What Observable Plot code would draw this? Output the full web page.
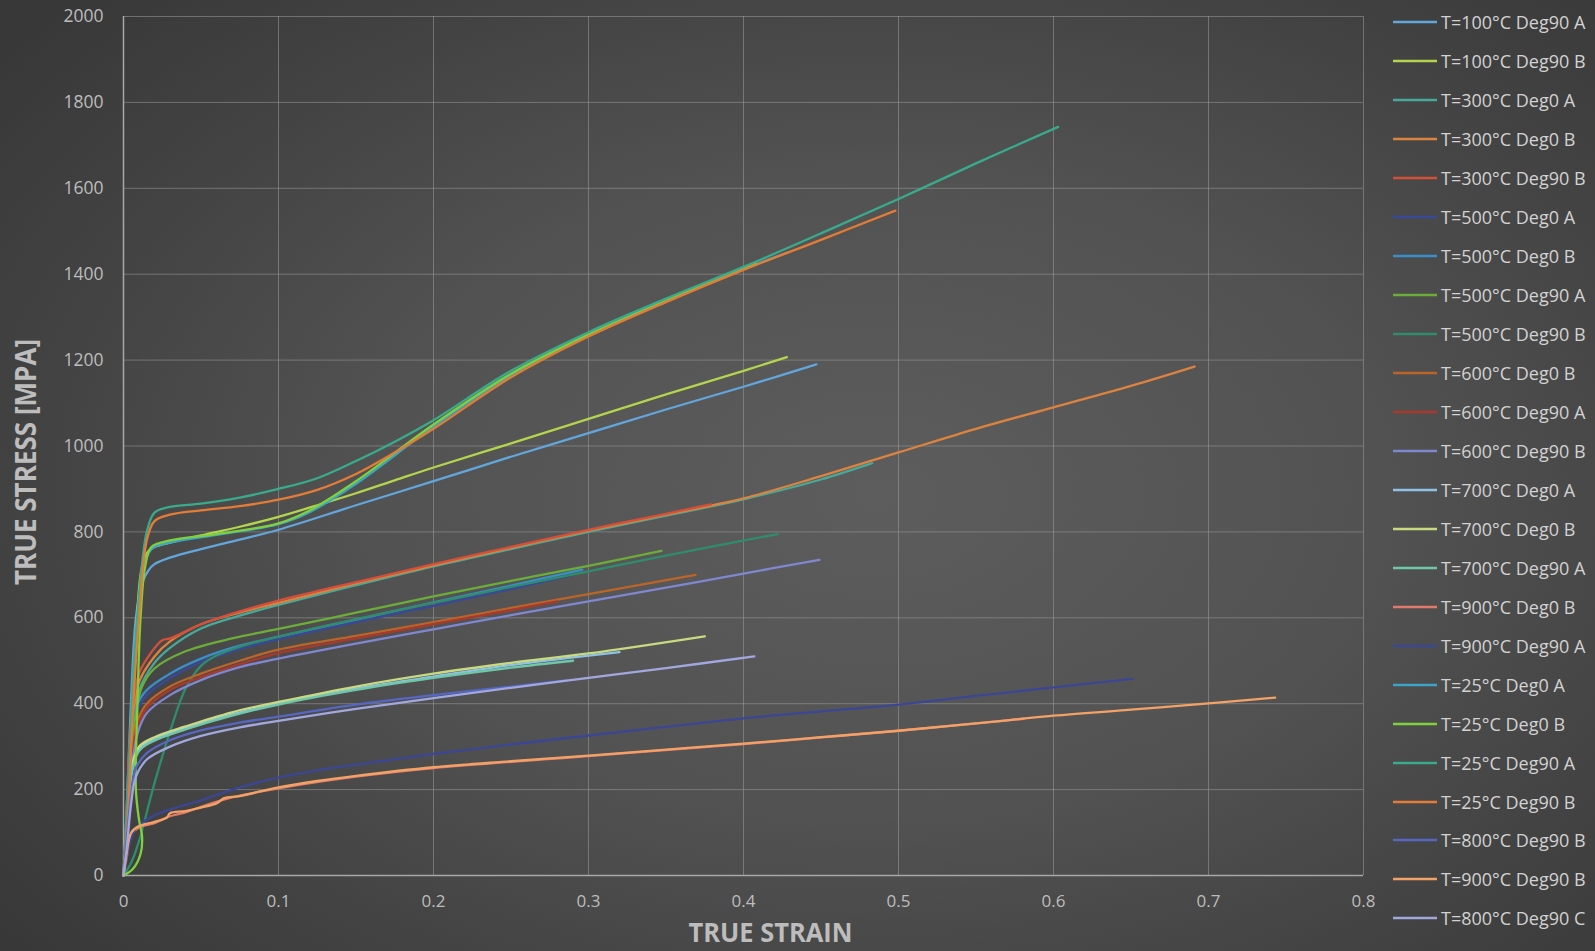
<!DOCTYPE html>
<html>
<head>
<meta charset="utf-8">
<script src="https://cdn.jsdelivr.net/npm/d3@7"></script>
<script src="https://cdn.jsdelivr.net/npm/@observablehq/plot@0.6"></script>
<style>
  html, body { margin: 0; padding: 0; background: #3a3a3a; }
  #wrap {
    position: relative; width: 1595px; height: 951px; overflow: hidden;
    background: radial-gradient(ellipse 70% 75% at 55% 52%, #5d5d5d 0%, #525252 45%, #434343 75%, #383838 100%);
    font-family: "Open Sans", "Noto Sans", sans-serif;
  }
  #chart { position: absolute; left: 0; top: 0; }
  #legend { position: absolute; left: 1393px; top: 3px; width: 202px; }
  .item { height: 38.96px; display: flex; align-items: center; color: #d2d2d2; font-size: 18px; white-space: nowrap; }
  .item svg { flex: none; margin-right: 4px; }
</style>
</head>
<body>
<div id="wrap">
  <div id="chart"></div>
  <div id="legend"></div>
</div>
<script>
// ---- tick values ----
const xTicks = [0, 0.1, 0.2, 0.3, 0.4, 0.5, 0.6, 0.7, 0.8];
const yTicks = [0, 200, 400, 600, 800, 1000, 1200, 1400, 1600, 1800, 2000];

// ---- series (true strain, true stress MPa) ----
const s100_Deg90A = [[0,0],[0.002,150],[0.005,420],[0.008,600],[0.012,680],[0.016,710],[0.02,725],[0.03,740],[0.05,760],[0.075,782],[0.1,805],[0.15,862],[0.2,918],[0.25,975],[0.3,1030],[0.35,1085],[0.4,1138],[0.447,1190]];
const s100_Deg90B = [[0,0],[0.003,150],[0.006,400],[0.009,620],[0.012,720],[0.016,755],[0.02,765],[0.03,775],[0.05,792],[0.075,812],[0.1,835],[0.125,862],[0.15,890],[0.175,920],[0.2,950],[0.25,1006],[0.3,1063],[0.35,1120],[0.4,1175],[0.428,1207]];
const s300_Deg0A = [[0,0],[0.002,120],[0.005,300],[0.01,430],[0.02,495],[0.03,530],[0.05,575],[0.075,605],[0.1,630],[0.15,676],[0.2,720],[0.25,760],[0.3,800],[0.35,838],[0.4,876],[0.45,922],[0.483,960]];
const s300_Deg0B = [[0,0],[0.002,130],[0.005,330],[0.01,450],[0.02,510],[0.03,545],[0.05,585],[0.075,612],[0.1,635],[0.15,680],[0.2,722],[0.25,763],[0.3,803],[0.35,840],[0.4,878],[0.45,930],[0.5,985],[0.55,1040],[0.6,1090],[0.65,1140],[0.691,1185]];
const s300_Deg90B = [[0,0],[0.002,150],[0.005,360],[0.01,470],[0.018,520],[0.025,548],[0.03,552],[0.04,568],[0.05,585],[0.075,615],[0.1,640],[0.15,683],[0.2,725],[0.25,765],[0.3,805],[0.35,842],[0.379,864]];
const s500_Deg0A = [[0,0],[0.002,120],[0.005,300],[0.009,385],[0.015,420],[0.03,460],[0.05,497],[0.075,527],[0.1,550],[0.15,590],[0.2,628],[0.25,667],[0.29,700]];
const s500_Deg0B = [[0,0],[0.002,140],[0.005,320],[0.009,400],[0.015,432],[0.03,470],[0.05,505],[0.075,535],[0.1,556],[0.15,596],[0.2,636],[0.25,675],[0.296,712]];
const s500_Deg90A = [[0,0],[0.002,100],[0.005,280],[0.008,380],[0.012,440],[0.02,482],[0.04,522],[0.07,552],[0.1,574],[0.15,612],[0.2,650],[0.25,686],[0.3,721],[0.347,756]];
const s500_Deg90B = [[0,0],[0.005,30],[0.01,80],[0.02,215],[0.03,335],[0.04,435],[0.05,488],[0.06,512],[0.08,538],[0.1,556],[0.15,597],[0.2,635],[0.25,672],[0.3,708],[0.35,745],[0.422,795]];
const s600_Deg0B = [[0,0],[0.002,110],[0.005,280],[0.009,360],[0.015,400],[0.03,440],[0.05,470],[0.075,500],[0.1,526],[0.15,558],[0.2,590],[0.25,623],[0.3,655],[0.369,700]];
const s600_Deg90A = [[0,0],[0.002,100],[0.005,260],[0.009,345],[0.015,390],[0.03,432],[0.05,462],[0.075,492],[0.1,518],[0.15,552],[0.2,585],[0.25,618],[0.28,638]];
const s600_Deg90B = [[0,0],[0.002,90],[0.005,240],[0.009,330],[0.015,378],[0.03,420],[0.05,455],[0.075,485],[0.1,505],[0.15,540],[0.2,573],[0.25,606],[0.3,638],[0.35,670],[0.4,703],[0.449,735]];
const s700_Deg0A = [[0,0],[0.002,90],[0.005,240],[0.01,295],[0.02,318],[0.04,343],[0.07,375],[0.1,400],[0.15,435],[0.2,463],[0.25,490],[0.32,520]];
const s700_Deg0B = [[0,0],[0.002,100],[0.005,250],[0.01,300],[0.02,322],[0.04,347],[0.07,380],[0.1,404],[0.15,440],[0.2,470],[0.25,495],[0.3,517],[0.375,557]];
const s700_Deg90A = [[0,0],[0.002,80],[0.005,230],[0.01,290],[0.02,314],[0.04,340],[0.07,372],[0.1,398],[0.15,432],[0.2,460],[0.25,484],[0.29,500]];
const s900_Deg0B = [[0,0],[0.002,40],[0.005,95],[0.01,112],[0.02,122],[0.03,138],[0.04,147],[0.05,160],[0.07,182],[0.1,203],[0.15,230],[0.2,250],[0.3,278],[0.4,306],[0.5,337],[0.581,365]];
const s900_Deg90A = [[0,0],[0.003,60],[0.008,110],[0.02,140],[0.05,175],[0.075,205],[0.1,228],[0.125,245],[0.15,258],[0.2,283],[0.25,305],[0.3,326],[0.35,346],[0.4,366],[0.45,382],[0.5,398],[0.55,418],[0.6,438],[0.651,458]];
const s25_Deg0A = [[0,0],[0.003,150],[0.006,400],[0.009,600],[0.012,700],[0.018,760],[0.03,775],[0.06,793],[0.1,818],[0.12,846],[0.15,912],[0.2,1045],[0.25,1165],[0.3,1258],[0.35,1340],[0.4,1412],[0.428,1450]];
const s25_Deg0B = [[0,0],[0.006,15],[0.011,50],[0.012,90],[0.01,130],[0.008,200],[0.009,400],[0.011,600],[0.014,720],[0.018,765],[0.03,780],[0.06,795],[0.1,820],[0.12,850],[0.15,918],[0.2,1050],[0.25,1168],[0.3,1260],[0.35,1340],[0.408,1425]];
const s25_Deg90A = [[0,0],[0.003,200],[0.006,450],[0.01,650],[0.015,800],[0.02,845],[0.03,858],[0.05,866],[0.075,880],[0.1,900],[0.125,925],[0.15,965],[0.175,1010],[0.2,1060],[0.25,1175],[0.3,1265],[0.35,1343],[0.4,1417],[0.45,1495],[0.5,1575],[0.55,1658],[0.603,1743]];
const s25_Deg90B = [[0,0],[0.003,150],[0.006,380],[0.01,600],[0.015,780],[0.02,825],[0.03,840],[0.05,850],[0.075,860],[0.1,875],[0.125,898],[0.15,935],[0.175,985],[0.2,1040],[0.25,1160],[0.3,1255],[0.35,1335],[0.4,1410],[0.45,1480],[0.498,1548]];
const s800_Deg90B = [[0,0],[0.002,80],[0.005,190],[0.008,250],[0.015,285],[0.03,315],[0.05,338],[0.075,356],[0.1,370],[0.15,398],[0.2,420],[0.25,440],[0.286,454]];
const s900_Deg90B = [[0,0],[0.002,50],[0.005,100],[0.01,115],[0.02,125],[0.028,135],[0.03,145],[0.04,150],[0.05,158],[0.06,168],[0.065,180],[0.075,185],[0.1,205],[0.125,220],[0.15,232],[0.2,252],[0.25,266],[0.3,279],[0.35,293],[0.4,307],[0.45,322],[0.5,337],[0.55,354],[0.6,372],[0.65,386],[0.7,401],[0.743,414]];
const s800_Deg90C = [[0,0],[0.002,60],[0.005,170],[0.008,230],[0.015,270],[0.03,300],[0.05,325],[0.075,345],[0.1,360],[0.15,388],[0.2,413],[0.25,437],[0.3,460],[0.35,483],[0.407,510]];

// ---- legend order ----
const seriesNames = [
  "T=100°C Deg90 A","T=100°C Deg90 B","T=300°C Deg0 A","T=300°C Deg0 B","T=300°C Deg90 B",
  "T=500°C Deg0 A","T=500°C Deg0 B","T=500°C Deg90 A","T=500°C Deg90 B","T=600°C Deg0 B",
  "T=600°C Deg90 A","T=600°C Deg90 B","T=700°C Deg0 A","T=700°C Deg0 B","T=700°C Deg90 A",
  "T=900°C Deg0 B","T=900°C Deg90 A","T=25°C Deg0 A","T=25°C Deg0 B","T=25°C Deg90 A",
  "T=25°C Deg90 B","T=800°C Deg90 B","T=900°C Deg90 B","T=800°C Deg90 C"
];
const seriesData = [
  s100_Deg90A, s100_Deg90B, s300_Deg0A, s300_Deg0B, s300_Deg90B,
  s500_Deg0A, s500_Deg0B, s500_Deg90A, s500_Deg90B, s600_Deg0B,
  s600_Deg90A, s600_Deg90B, s700_Deg0A, s700_Deg0B, s700_Deg90A,
  s900_Deg0B, s900_Deg90A, s25_Deg0A, s25_Deg0B, s25_Deg90A,
  s25_Deg90B, s800_Deg90B, s900_Deg90B, s800_Deg90C
];
const seriesColors = [
  "#62a6dc","#b4d44e","#47a999","#dc833f","#d4503a",
  "#3a4898","#3a8fca","#6cad3a","#2f8c6c","#bb6528",
  "#a9392d","#7f87cf","#8fc2e8","#c8da80","#6ec8a8",
  "#e07b6b","#3c4794","#3aa5c8","#80d03c","#3aaa8c",
  "#e27c36","#5567c2","#f2a266","#a2a8de"
];

const rows = [];
seriesNames.forEach((name, i) => {
  for (const [x, y] of seriesData[i]) rows.push({strain: x, stress: y, series: name});
});

const chart = Plot.plot({
  width: 1375,
  height: 951,
  marginLeft: 123,
  marginRight: 12,
  marginTop: 16,
  marginBottom: 76,
  style: {background: "transparent", color: "#bdbdbd", fontFamily: "'Open Sans', 'Noto Sans', sans-serif", fontSize: "17px"},
  x: {domain: [0, 0.8], label: null},
  y: {domain: [0, 2000], label: null},
  color: {domain: seriesNames, range: seriesColors},
  marks: [
    Plot.gridX(xTicks, {stroke: "#9a9a9a", strokeOpacity: 0.55, strokeWidth: 1}),
    Plot.gridY(yTicks, {stroke: "#9a9a9a", strokeOpacity: 0.55, strokeWidth: 1}),
    Plot.ruleX([0], {stroke: "#a8a8a8", strokeWidth: 1.5}),
    Plot.ruleY([0], {stroke: "#a8a8a8", strokeWidth: 1.5}),
    Plot.line(rows, {x: "strain", y: "stress", z: "series", stroke: "series", strokeWidth: 2.3, curve: "catmull-rom"}),
    Plot.axisX(xTicks, {tickSize: 0, tickPadding: 19, tickFormat: d => String(d), fill: "#bdbdbd", fontSize: 17}),
    Plot.axisY(yTicks, {tickSize: 0, tickPadding: 20, tickFormat: d => String(d), fill: "#bdbdbd", fontSize: 17.5}),
    Plot.text(["TRUE STRAIN"], {frameAnchor: "bottom", textAnchor: "middle", dx: 27, dy: 58, lineAnchor: "middle", fontWeight: "bold", fontSize: 27, fill: "#bdbdbd"}),
    Plot.text(["TRUE STRESS [MPA]"], {frameAnchor: "left", textAnchor: "middle", rotate: -90, dx: -96, dy: 16, lineAnchor: "middle", fontWeight: "bold", fontSize: 28, fill: "#bdbdbd"})
  ]
});
document.getElementById("chart").appendChild(chart);

// condense the axis titles to the reference widths
d3.select(chart).selectAll("text").each(function() {
  const t = this.textContent;
  if (t === "TRUE STRAIN") { this.setAttribute("textLength", 164); this.setAttribute("lengthAdjust", "spacingAndGlyphs"); }
  if (t === "TRUE STRESS [MPA]") { this.setAttribute("textLength", 246); this.setAttribute("lengthAdjust", "spacingAndGlyphs"); }
});

// legend
const legend = d3.select("#legend");
seriesNames.forEach((name, i) => {
  const item = legend.append("div").attr("class", "item");
  const sw = item.append("svg").attr("width", 44).attr("height", 6);
  sw.append("line").attr("x1", 0).attr("x2", 44).attr("y1", 3).attr("y2", 3)
    .attr("stroke", seriesColors[i]).attr("stroke-width", 2.6);
  item.append("span").text(name);
});
</script>
</body>
</html>
